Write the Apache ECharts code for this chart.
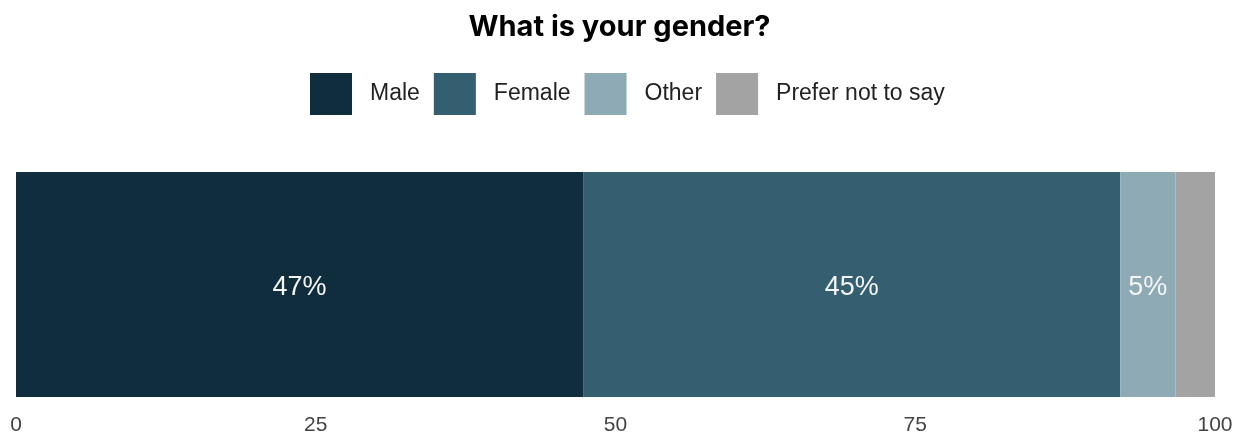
<!DOCTYPE html>
<html>
<head>
<meta charset="utf-8">
<script src="https://cdn.jsdelivr.net/npm/echarts@6/dist/echarts.min.js"></script>
<style>
  html, body { margin: 0; padding: 0; background: #fff; }
  #chart { width: 1239px; height: 438px; }
</style>
</head>
<body>
<div id="chart"></div>
<script>
var categories = ["Gender"];
var seriesNames = ["Male", "Female", "Other", "Prefer not to say"];
var maleValues = [47.3];
var femaleValues = [44.8];
var otherValues = [4.6];
var preferValues = [3.3];
var xTicks = [0, 25, 50, 75, 100];

var colors = ["#0f2d3d", "#335f70", "#8eabb5", "#a3a3a3"];
var valueSets = [maleValues, femaleValues, otherValues, preferValues];

var chart = echarts.init(document.getElementById("chart"));

var series = seriesNames.map(function (name, i) {
  return {
    name: name,
    type: "bar",
    stack: "total",
    barWidth: "100%",
    data: valueSets[i],
    itemStyle: { color: colors[i] },
    label: {
      show: true,
      position: "inside",
      color: "#f4f4f4",
      fontSize: 27,
      fontFamily: "Liberation Sans",
      offset: [0, 3],
      formatter: function (p) {
        // small slices get no label
        return p.value >= 4 ? Math.round(p.value) + "%" : "";
      },
    },
  };
});

var option = {
  animation: false,
  color: colors,
  title: {
    text: "What is your gender?",
    left: "center",
    top: 8,
    textStyle: {
      fontSize: 29,
      fontWeight: "bold",
      fontFamily: "Inter",
      color: "#000",
    },
  },
  legend: {
    top: 68,
    left: 305,
    itemWidth: 42,
    itemHeight: 42,
    itemGap: 14,
    icon: "rect",
    textStyle: {
      fontSize: 23,
      fontFamily: "Liberation Sans",
      color: "#222",
      padding: [0, 0, 0, 13],
    },
    data: seriesNames,
  },
  grid: {
    left: 16,
    right: 24,
    top: 172,
    bottom: 41,
  },
  xAxis: {
    type: "value",
    min: 0,
    max: 100,
    interval: 25,
    axisLine: { show: false },
    axisTick: { show: false },
    splitLine: { show: false },
    axisLabel: {
      fontSize: 21,
      fontFamily: "Liberation Sans",
      color: "#444",
      margin: 18,
      formatter: function (v) {
        return xTicks.indexOf(v) >= 0 ? String(v) : "";
      },
    },
  },
  yAxis: {
    type: "category",
    data: categories,
    show: false,
  },
  series: series,
};

chart.setOption(option);
window.addEventListener("resize", function () {
  chart.resize();
});
</script>
</body>
</html>
